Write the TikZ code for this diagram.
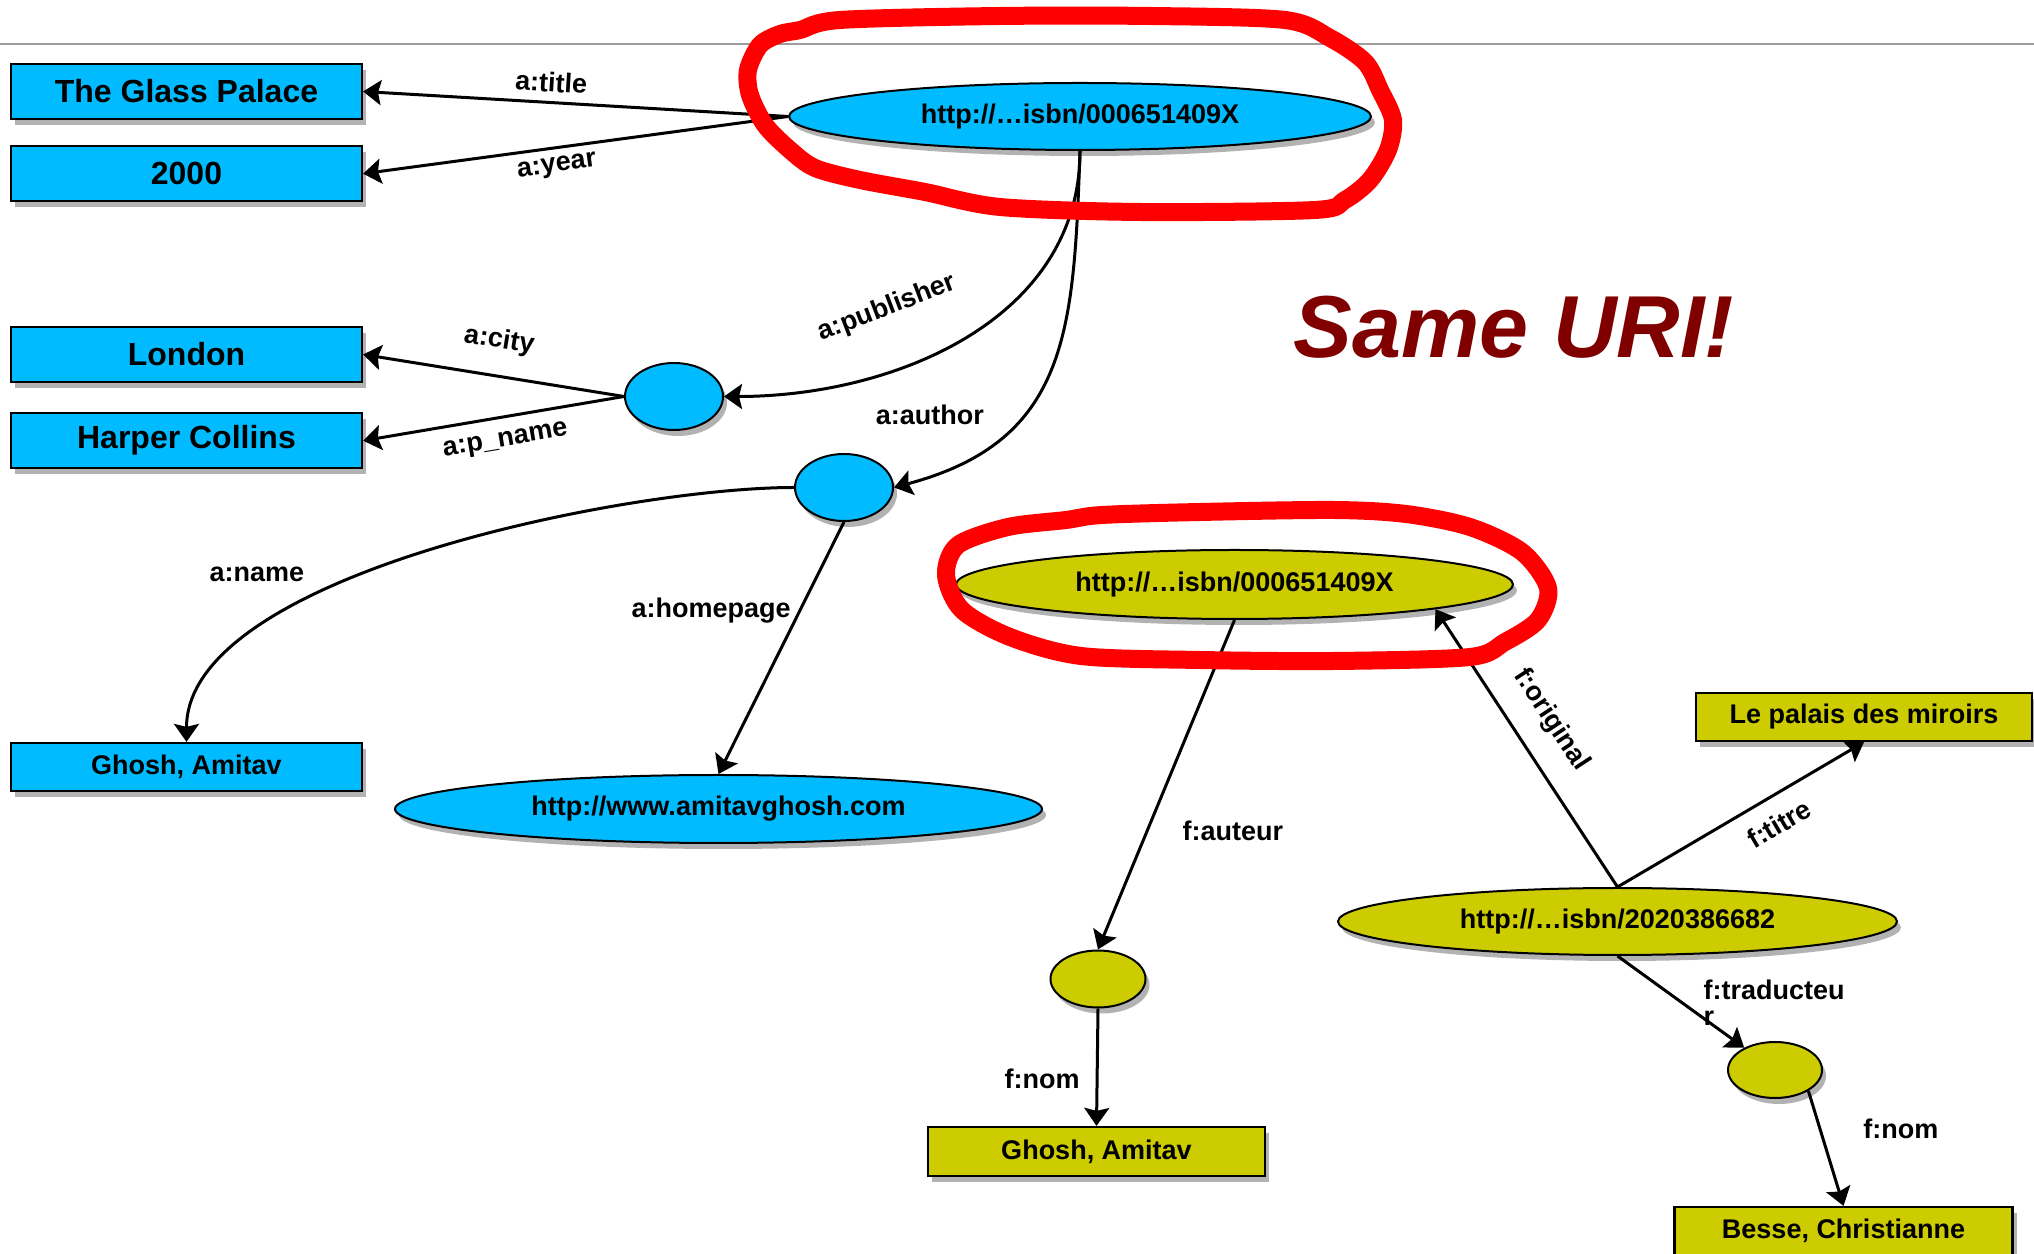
\documentclass[tikz,border=0pt]{standalone}
\usepackage{fontspec}
\setmainfont{Liberation Sans}
\usepackage{xcolor}
\usetikzlibrary{shapes,arrows.meta,positioning,shadows}

\definecolor{rdfblue}{RGB}{0,187,255}
\definecolor{rdfolive}{RGB}{204,204,0}
\definecolor{urired}{RGB}{128,0,0}
\definecolor{loopred}{RGB}{255,0,0}

\begin{document}
\begin{tikzpicture}[
    x=1pt, y=1pt,
    >={Stealth[length=18pt, width=25pt, inset=3pt]},
    softshadow/.style={drop shadow={shadow xshift=4pt, shadow yshift=-6pt, opacity=0.3, fill=black}},
    box/.style={rectangle, draw, line width=2.2pt, fill=rdfblue, minimum width=351pt, minimum height=55pt, inner sep=0pt, font=\fontsize{32}{36}\selectfont\bfseries, softshadow},
    smallbox/.style={box, minimum height=48pt, font=\fontsize{27}{30}\selectfont\bfseries},
    uri/.style={ellipse, draw, line width=2pt, fill=rdfblue, inner sep=0pt, font=\fontsize{27}{30}\selectfont\bfseries, softshadow},
    blank/.style={uri, minimum width=98pt, minimum height=67pt},
    lbl/.style={font=\fontsize{27}{26}\selectfont\bfseries, inner sep=2pt},
    arrow/.style={->, line width=3pt},
    scribble/.style={draw=loopred, line width=18pt, line join=round}
]
\useasboundingbox (0,0) rectangle (2034,1253);

% Slide rule
\draw[line width=2pt, black!38] (0,1209) -- (2034,1209);

% English description
\node[box] (glass) at (186.5,1161.5) {The Glass Palace};
\node[box, below=25pt of glass] (year) {2000};
\node[box] (london) at (186.5,898.5) {London};
\node[box, below=29pt of london] (harper) {Harper Collins};
\node[smallbox] (ghoshA) at (186.5,486) {Ghosh, Amitav};

\node[uri, minimum width=582pt, minimum height=67pt] (isbnA) at (1080,1136.5) {http://…isbn/000651409X};
\node[blank] (pub) at (674,856.5) {};
\node[blank] (auth) at (844,765.5) {};
\node[uri, minimum width=647pt, minimum height=68pt] (home) at (718.5,444) {http://www.amitavghosh.com};

% French description
\node[uri, fill=rdfolive, minimum width=557pt, minimum height=69pt] (isbnF) at (1234.5,668.5) {http://…isbn/000651409X};
\node[uri, fill=rdfolive, minimum width=559pt, minimum height=67pt] (isbnT) at (1617.5,331.5) {http://…isbn/2020386682};
\node[blank, fill=rdfolive, minimum width=95pt, minimum height=57pt] (auteur) at (1098,274) {};
\node[blank, fill=rdfolive, minimum width=94pt, minimum height=56pt] (trad) at (1775,183) {};
\node[smallbox, fill=rdfolive, minimum width=336pt] (palais) at (1864,536) {Le palais des miroirs};
\node[smallbox, fill=rdfolive, minimum width=337pt, minimum height=49pt] (ghoshF) at (1096.5,101.5) {Ghosh, Amitav};
\node[smallbox, fill=rdfolive, minimum width=338pt] (besse) at (1843.5,22) {Besse, Christianne};

% Remark
\node[font=\fontsize{88}{100}\selectfont\bfseries\itshape, text=urired, inner sep=0pt] (same) at (1514,925.5) {Same URI!};

% Arrows
\draw[arrow] (isbnA.west) -- node[lbl, sloped, above=7pt, pos=0.56] (ltitle) {a:title} (glass.east);
\draw[arrow] (isbnA.west) -- node[lbl, sloped, below=6pt, pos=0.55] (lyear) {a:year} (year.east);
\draw[arrow] (isbnA.south) to[out=-90, in=0] node[lbl, sloped, above=44pt, pos=0.63] (lpub) {a:publisher} (pub.east);
\draw[arrow] (isbnA.south) to[out=-92, in=15, looseness=1.2] node[lbl, left=35pt, pos=0.65] (lauth) {a:author} (auth.east);
\draw[arrow] (pub.west) -- node[lbl, sloped, above=19pt, pos=0.5] (lcity) {a:city} (london.east);
\draw[arrow] (pub.west) -- node[lbl, sloped, below=11pt, pos=0.47] (lpname) {a:p\_name} (harper.east);
\draw[arrow] (auth.west) to[out=180, in=90, looseness=0.65] node[lbl, left=59pt, pos=0.58] (lname) {a:name} (ghoshA.north);
\draw[arrow] (auth.south) -- node[lbl, left=6pt, pos=0.35] (lhome) {a:homepage} (home.north);

\draw[arrow] (isbnF.south) -- node[lbl, right=32pt, pos=0.64] (lauteur) {f:auteur} (auteur.north);
\draw[arrow] (auteur.south) -- node[lbl, left=14pt, pos=0.6] (lnom) {f:nom} (ghoshF.north);
\draw[arrow] (isbnT.north) -- node[lbl, sloped, above=20pt, pos=0.53] (lorig) {f:original} (isbnF.-7);
\draw[arrow] (isbnT.north) -- node[lbl, sloped, below=14pt, pos=0.6] (ltitre) {f:titre} (palais.south);
\draw[arrow] (isbnT.south) -- node[lbl, right=18pt, pos=0.51, align=left] (ltrad) {f:traducteu\\r} (trad);
\draw[arrow] (trad.-32) -- node[lbl, right=40pt, pos=0.33] (lnom2) {f:nom} (besse.north);

% Hand-drawn marks
\draw[scribble] plot[smooth cycle, tension=0.5] coordinates {(800,1223) (840,1233) (1000,1237) (1150,1237) (1285,1233) (1330,1215) (1365,1191) (1380,1163) (1393,1133) (1388,1103) (1370,1073) (1345,1053) (1315,1043) (1140,1041) (1000,1046) (925,1061) (860,1073) (815,1085) (790,1103) (765,1128) (750,1158) (748,1183) (760,1208) (780,1219)};
\draw[scribble] plot[smooth cycle, tension=0.5] coordinates {(1008,726) (1066,733) (1102,738) (1200,741) (1334,743) (1406,739) (1470,726) (1522,701) (1548,665) (1538,633) (1505,611) (1470,596) (1334,592) (1200,593) (1081,597) (1010,616) (962,643) (946,678) (958,708)};

\end{tikzpicture}
\end{document}
